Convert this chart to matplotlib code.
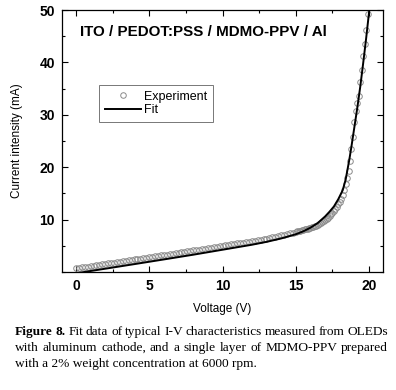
import matplotlib
matplotlib.use("Agg")
import matplotlib.pyplot as plt
from matplotlib.ticker import MultipleLocator, FixedLocator

plt.rcParams['font.family'] = ['Liberation Sans', 'DejaVu Sans']

# measured I-V data (V, mA)
volt_exp = [0.0, 0.2, 0.4, 0.6, 0.8, 1.0, 1.2, 1.4, 1.6, 1.8,
            2.0, 2.2, 2.4, 2.6, 2.8, 3.0, 3.2, 3.4, 3.6, 3.8,
            4.0, 4.2, 4.4, 4.6, 4.8, 5.0, 5.2, 5.4, 5.6, 5.8,
            6.0, 6.2, 6.4, 6.6, 6.8, 7.0, 7.2, 7.4, 7.6, 7.8,
            8.0, 8.2, 8.4, 8.6, 8.8, 9.0, 9.2, 9.4, 9.6, 9.8,
            10.0, 10.2, 10.4, 10.6, 10.8, 11.0, 11.2, 11.4, 11.6, 11.8,
            12.0, 12.2, 12.4, 12.6, 12.8, 13.0, 13.2, 13.4, 13.6, 13.8,
            14.0, 14.2, 14.4, 14.6, 14.8, 15.0,
            15.1, 15.2, 15.3, 15.4, 15.5, 15.6, 15.7, 15.8, 15.9, 16.0,
            16.1, 16.2, 16.3, 16.4, 16.5, 16.6, 16.7, 16.8, 16.9, 17.0,
            17.1, 17.2, 17.3, 17.4, 17.5, 17.6, 17.7, 17.8, 17.9, 18.0,
            18.1, 18.2, 18.3, 18.4, 18.5, 18.6, 18.7, 18.8, 18.9, 19.0,
            19.1, 19.2, 19.3, 19.4, 19.5, 19.6, 19.7, 19.8, 19.9]
curr_exp = [0.70, 0.79, 0.87, 0.96, 1.04, 1.13, 1.21, 1.30, 1.38, 1.47,
            1.55, 1.63, 1.72, 1.80, 1.89, 1.97, 2.05, 2.14, 2.22, 2.31,
            2.39, 2.47, 2.56, 2.64, 2.73, 2.81, 2.90, 2.98, 3.07, 3.15,
            3.24, 3.32, 3.41, 3.49, 3.58, 3.66, 3.75, 3.84, 3.93, 4.02,
            4.11, 4.20, 4.29, 4.38, 4.47, 4.56, 4.65, 4.74, 4.83, 4.92,
            5.01, 5.10, 5.18, 5.27, 5.36, 5.44, 5.53, 5.62, 5.71, 5.80,
            5.89, 5.98, 6.08, 6.18, 6.28, 6.39, 6.50, 6.61, 6.73, 6.85,
            6.97, 7.10, 7.23, 7.37, 7.52, 7.68,
            7.75, 7.82, 7.90, 7.97, 8.05, 8.13, 8.21, 8.29, 8.37, 8.45,
            8.53, 8.62, 8.72, 8.84, 8.98, 9.13, 9.30, 9.49, 9.70, 9.95,
            10.15, 10.40, 10.70, 11.05, 11.30, 11.55, 11.95, 12.50, 12.90, 13.40,
            13.95, 14.70, 15.70, 16.80, 17.90, 19.30, 21.20, 23.40, 25.80, 28.70,
            30.70, 32.20, 33.50, 36.20, 38.60, 41.20, 43.60, 46.10, 49.20]

# fitted curve
volt_fit = [0.0, 2.0, 4.0, 6.0, 8.0, 10.0, 12.0, 13.0, 14.0, 15.0,
            15.5, 16.0, 16.5, 17.0, 17.3, 17.6, 17.9, 18.2, 18.4, 18.65,
            18.8, 19.0, 19.2, 19.4, 19.6, 19.8, 20.0, 20.05]
curr_fit = [-0.25, 0.63, 1.51, 2.40, 3.30, 4.25, 5.20, 5.75, 6.40, 7.20,
            7.75, 8.45, 9.35, 10.60, 11.50, 12.50, 13.90, 15.60, 17.60, 21.40,
            24.00, 27.70, 31.40, 35.40, 39.90, 44.60, 49.60, 51.00]

x_ticks = [0, 5, 10, 15, 20]
y_ticks = [10, 20, 30, 40, 50]

fig = plt.figure(figsize=(3.96, 3.90), dpi=100)
ax = fig.add_axes([62/396, 1 - 272/390, (383 - 62)/396, (272 - 10)/390])

ax.plot(volt_exp, curr_exp, 'o', mfc='none', mec='#8a8a8a', ms=4, mew=0.7,
        label='Experiment', zorder=2)
ax.plot(volt_fit, curr_fit, '-', color='black', lw=1.4, label='Fit', zorder=3)

ax.set_xlim(-0.95, 20.95)
ax.set_ylim(0, 50)
ax.xaxis.set_major_locator(FixedLocator(x_ticks))
ax.xaxis.set_minor_locator(MultipleLocator(2.5))
ax.yaxis.set_major_locator(FixedLocator(y_ticks))
ax.yaxis.set_minor_locator(MultipleLocator(5))
ax.tick_params(which='both', direction='in', top=True, right=True, width=0.8)
ax.tick_params(which='major', length=4, labelsize=10, pad=5)
ax.tick_params(which='minor', length=2.5)
for lab in ax.get_xticklabels() + ax.get_yticklabels():
    lab.set_fontweight('bold')
for sp in ax.spines.values():
    sp.set_linewidth(0.9)

ax.set_xlabel('Voltage (V)', fontsize=8.5, labelpad=7)
ax.set_ylabel('Current intensity (mA)', fontsize=8.5, labelpad=12)

ax.text(0.055, 0.916, 'ITO / PEDOT:PSS / MDMO-PPV / Al', transform=ax.transAxes,
        fontsize=10.9, fontweight='bold', va='center', ha='left')

leg = ax.legend(loc='upper left', bbox_to_anchor=(0.115, 0.714), fontsize=9,
                frameon=True, fancybox=False, edgecolor='#555555',
                handlelength=2.9, handletextpad=0.25, borderpad=0.45,
                borderaxespad=0, labelspacing=0.15)
leg.get_frame().set_linewidth(0.7)

# caption, justified like the paper
serif = ['Liberation Serif', 'DejaVu Serif']
cap_size = 9.6
left_px, right_px = 15, 388
lines = [
    [('Figure', 'bold'), ('8.', 'bold'), ('Fit', 'normal'), ('data', 'normal'), ('of', 'normal'),
     ('typical', 'normal'), ('I-V', 'normal'), ('characteristics', 'normal'), ('measured', 'normal'),
     ('from', 'normal'), ('OLEDs', 'normal')],
    [(w, 'normal') for w in 'with aluminum cathode, and a single layer of MDMO-PPV prepared'.split()],
]
line_y = [332, 348, 364]
renderer = fig.canvas.get_renderer()
for words, ypx in zip(lines, line_y):
    objs = [fig.text(0, 1 - ypx/390, w, family=serif, fontweight=fw, fontsize=cap_size,
                     va='center', ha='left') for w, fw in words]
    widths = [o.get_window_extent(renderer).width for o in objs]
    gap = (right_px - left_px - sum(widths)) / (len(objs) - 1)
    x = left_px
    for o, wd in zip(objs, widths):
        o.set_x(x / 396)
        x += wd + gap
fig.text(left_px/396, 1 - line_y[2]/390, 'with a 2% weight concentration at 6000 rpm.',
         family=serif, fontsize=cap_size, va='center', ha='left')

fig.savefig('out.png', dpi=100)
